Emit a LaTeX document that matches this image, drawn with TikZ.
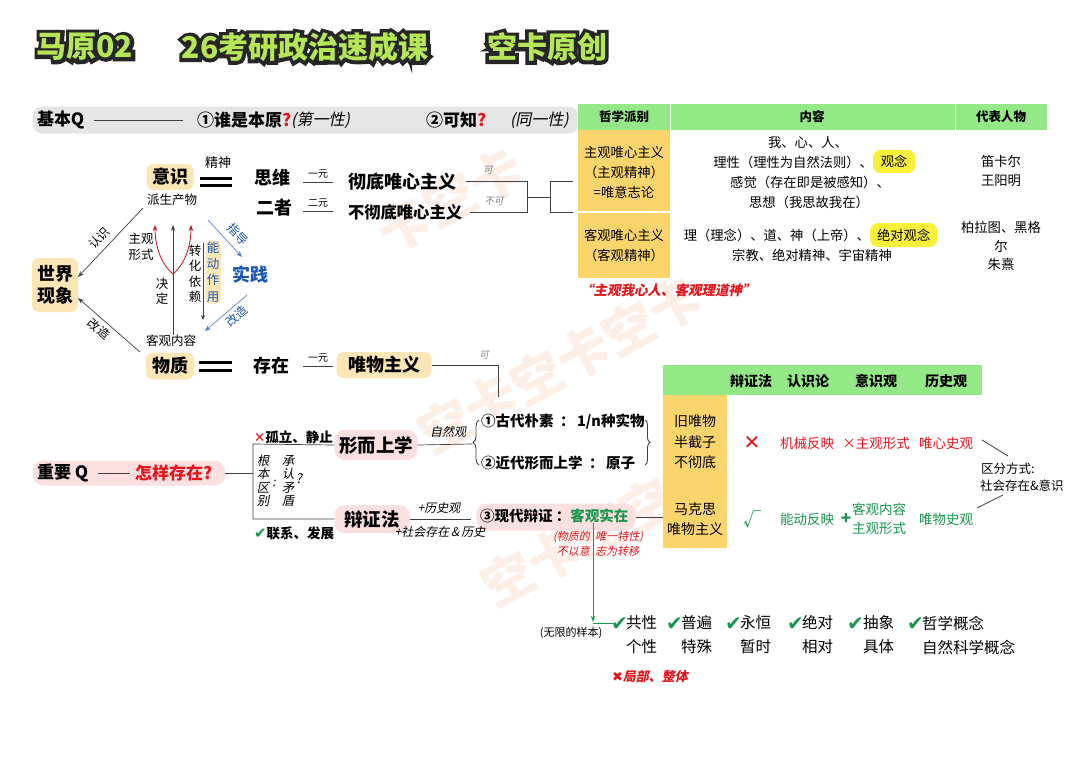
\documentclass[tikz,border=0pt]{standalone}
\usepackage{fontspec}
\setmainfont{Noto Sans CJK SC}
\newfontfamily\itf[FakeSlant=0.2]{Noto Sans CJK SC}
\newfontfamily\outf[FakeBold=24]{Noto Sans CJK SC}
\newfontfamily\djv{DejaVu Sans}
\usetikzlibrary{arrows.meta,decorations.pathreplacing}
\definecolor{tred}{HTML}{E8141B}
\definecolor{tgreen}{HTML}{17964C}
\definecolor{tblue}{HTML}{1A56B8}
\definecolor{nodeor}{HTML}{FDE6B6}
\definecolor{nodepk}{HTML}{FCE0E0}
\definecolor{hgreen}{HTML}{93E985}
\definecolor{ocol}{HTML}{FCD46C}
\definecolor{hly}{HTML}{FAF03A}
\definecolor{barg}{HTML}{E5E5E5}
\definecolor{titleg}{HTML}{B5E655}
\definecolor{lgray}{HTML}{808080}
\definecolor{wmark}{HTML}{FDEEE6}
\newcommand\fz[2]{\fontsize{#1}{#2}\selectfont}
\begin{document}
\begin{tikzpicture}[x=1pt,y=-1pt,
  t/.style={inner sep=0pt,outer sep=0pt},
  on/.style={fill=nodeor,rounded corners=7pt,inner sep=0pt},
  pk/.style={fill=nodepk,rounded corners=10pt,inner sep=0pt},
  ln/.style={draw=black!75,line width=0.7pt},
  arr/.style={ln,-{Stealth[length=6pt,width=4.5pt]}},
  redarr/.style={draw=tred!85!black,line width=0.8pt,-{Stealth[length=6pt,width=4.5pt]}},
  barr/.style={draw=tblue!80,line width=0.6pt,-{Stealth[length=6pt,width=4.5pt]}},
  eq/.style={line width=3pt,black},
  ttl/.style={t,font=\fz{30}{30}\bfseries},
  wm/.style={t,font=\fz{52}{52}\bfseries,text=wmark,rotate=28}
]
\useasboundingbox (0,0) rectangle (1080,763);
\fill[white] (0,0) rectangle (1080,763);

% watermarks
\node[wm] (wm1) at (450,200) {卡空卡};
\node[wm] (wm2) at (560,365) {空卡空卡空卡};
\node[wm] (wm3) at (600,530) {空卡空空卡};

% title
\foreach \p/\s/\n in {85/马原02/a,305/26考研政治速成课/b,547/空卡原创/c}{
  \node[ttl,text=black!85] (to\n) at (\p,47) {\outf\bfseries \s};
  \node[ttl,text=titleg] (ti\n) at (\p,47) {\s};
}

% basic Q bar
\node[fill=barg,rounded corners=9pt,minimum width=545,minimum height=27,t] (bar) at (305.5,120) {};
\node[t,anchor=west] (jbq) at (37,120) {\fz{17}{17}\bfseries 基本Q};
\coordinate (qend) at (183,120);
\draw[ln,line width=0.9pt] ([xshift=10pt]jbq.east) -- (qend);
\node[t,anchor=west] (q1) at (197,120) {\fz{17}{17}\bfseries ①谁是本原\textcolor{tred}{?}};
\node[t,anchor=west] (q1b) at (q1.east) {\fz{16}{16}\itf (第一性)};
\node[t,anchor=west] (q2) at (426,120) {\fz{17}{17}\bfseries ②可知\textcolor{tred}{?}};
\node[t,anchor=west] (q2b) at (510,120) {\fz{16}{16}\itf (同一性)};

% ---------- top table ----------
\fill[hgreen] (578,104) rectangle (1047,130);
\draw[white,line width=1pt] (670,104) -- (670,130) (955,104) -- (955,130);
\fill[ocol] (578,130) rectangle (670,278);
\draw[white,line width=1.2pt] (578,212) -- (670,212);
\node[t] (h1) at (624,117) {\fz{12.5}{12.5}\bfseries 哲学派别};
\node[t] (h2) at (812,117) {\fz{12.5}{12.5}\bfseries 内容};
\node[t] (h3) at (1001,117) {\fz{12.5}{12.5}\bfseries 代表人物};
\node[t,align=center,font=\fz{13.3}{20}] (r1a) at (624,172) {主观唯心主义\\（主观精神）\\=唯意志论};
\node[t,align=center,font=\fz{13.3}{20}] (r2a) at (624,245) {客观唯心主义\\（客观精神）};
\node[t] (c11) at (808,142) {\fz{13.3}{13.3}我、心、人、};
\node[t,anchor=east] (c12) at (873,162) {\fz{13.3}{13.3}理性（理性为自然法则）、};
\node[fill=hly,rounded corners=7pt,inner sep=0pt,minimum width=42,minimum height=23,anchor=west] (gn) at (873,161.5) {\fz{13.3}{13.3}观念};
\node[t] (c13) at (810,182) {\fz{13.3}{13.3}感觉（存在即是被感知）、};
\node[t] (c14) at (809,202) {\fz{13.3}{13.3}思想（我思故我在）};
\node[t,anchor=east] (c21) at (870,235) {\fz{13.3}{13.3}理（理念）、道、神（上帝）、};
\node[fill=hly,rounded corners=8pt,inner sep=0pt,minimum width=67,minimum height=24,anchor=west] (jdgn) at (870,235) {\fz{13.3}{13.3}绝对观念};
\node[t] (c22) at (812,255) {\fz{13.3}{13.3}宗教、绝对精神、宇宙精神};
\node[t,align=center,font=\fz{13.3}{19}] (p1) at (1001,171) {笛卡尔\\王阳明};
\node[t] (p2a) at (1001,227) {\fz{13.3}{13.3}柏拉图、黑格};
\node[t] (p2b) at (1001,246) {\fz{13.3}{13.3}尔};
\node[t] (p2c) at (1001,264) {\fz{13.3}{13.3}朱熹};
\node[t,anchor=west] (quote) at (580,290) {\fz{13.5}{13.5}\itf\bfseries\color{tred}“主观我心人、客观理道神”};

% ---------- left diagram ----------
\node[on,minimum width=47,minimum height=26] (ys) at (170,177) {\fz{18}{18}\bfseries 意识};
\node[t] (jsh) at (218,163) {\fz{13}{13}精神};
\draw[eq] (200,178.5) -- (232,178.5) (200,185) -- (232,185);
\node[t] (psw) at (172,200) {\fz{12.5}{12.5}派生产物};
\node[on,minimum width=46,minimum height=54,align=center,font=\fz{18}{22}\bfseries] (sjxx) at (55,285) {世界\\现象};
\node[t] (kgnr) at (171,341) {\fz{12.5}{12.5}客观内容};
\node[on,minimum width=48,minimum height=27] (wz) at (170,366) {\fz{18}{18}\bfseries 物质};
\draw[eq] (199,362) -- (232,362) (199,370) -- (232,370);

\coordinate (rz1) at (143,208);
\coordinate (rz2) at (78,277);
\draw[arr] (rz1) -- (rz2);
\node[t,rotate=47] (rzl) at (99,238) {\fz{12}{12}认识};
\coordinate (gz1) at (140,352);
\coordinate (gz2) at (78,298);
\draw[arr] (gz1) -- (gz2);
\node[t,rotate=-41] (gzl) at (99,329) {\fz{12}{12}改造};

\coordinate (vtop) at (173,225);
\draw[arr] (kgnr.north -| vtop) -- (vtop);
\coordinate (rc) at (173,274);
\coordinate (rl) at (155,225);
\coordinate (rr) at (191,225);
\draw[redarr] (rc) .. controls (161,264) and (155,246) .. (rl);
\draw[redarr] (rc) .. controls (185,264) and (191,246) .. (rr);
\node[t,align=center,font=\fz{12.5}{15}] (jued) at (162,291) {决\\定};
\node[t,align=center,font=\fz{12.5}{16}] (zgxs) at (141,247) {主观\\形式};
\coordinate (dn1) at (203,243);
\coordinate (dn2) at (203,320);
\draw[ln,line width=0.6pt,-{Stealth[length=5pt,width=4pt]}] (dn1) -- (dn2);
\node[t,align=center,font=\fz{12.5}{15.5}] (zhyl) at (195,274) {转\\化\\依\\赖};
\node[fill=nodeor,rounded corners=5pt,inner sep=1.5pt,align=center,font=\fz{12.5}{16.3},text=tblue] (ndzy) at (213,272) {能\\动\\作\\用};
\node[t] (sj) at (250,275) {\fz{18}{18}\bfseries\color{tblue}实践};
\coordinate (zd1) at (208,220);
\coordinate (zd2) at (242,257);
\draw[barr] (zd1) -- (zd2);
\node[t,rotate=-47] (zdl) at (238,234) {\fz{12}{12}\color{tblue}指导};
\coordinate (gb1) at (247,295);
\coordinate (gb2) at (205,331);
\draw[barr] (gb1) -- (gb2);
\node[t,rotate=40] (gbl) at (237,316) {\fz{12}{12}\color{tblue}改造};

% ---------- middle top ----------
\node[t] (sw) at (272,178) {\fz{18}{18}\bfseries 思维};
\node[t] (ez) at (274,208) {\fz{18}{18}\bfseries 二者};
\node[t] (cz) at (271,366) {\fz{18}{18}\bfseries 存在};
\node[t] (yy1) at (318,174) {\fz{10}{10}一元};
\draw[ln] (303,182) -- (333,182);
\node[t] (ey) at (318,203) {\fz{10}{10}二元};
\draw[ln] (303,211) -- (333,211);
\node[t] (yy2) at (318,358) {\fz{10}{10}一元};
\draw[ln] (303,366) -- (333,366);
\node[t,anchor=west] (cdw) at (348,182) {\fz{18}{18}\bfseries 彻底唯心主义};
\node[t,anchor=west] (bcd) at (348,212) {\fz{16.3}{16.3}\bfseries 不彻底唯心主义};
\coordinate (b1a) at (527,181);
\coordinate (b1b) at (527,212);
\draw[ln] ([xshift=10pt]cdw.east |- b1a) -- (b1a) -- (b1b) -- ([xshift=8pt]bcd.east |- b1b);
\node[t] (ke1) at (488,170) {\fz{9.5}{9.5}\itf\color{lgray}可};
\node[t] (bk1) at (494,201) {\fz{9.5}{9.5}\itf\color{lgray}不可};
\coordinate (b2a) at (550,181);
\coordinate (b2b) at (550,212);
\draw[ln] (527,197) -- (550,197);
\draw[ln] (573,181) -- (b2a) -- (b2b) -- (573,212);

% ---------- materialism ----------
\node[on,minimum width=95,minimum height=26] (wwzy) at (384,365) {\fz{18}{18}\bfseries 唯物主义};
\coordinate (wwc) at (498,365);
\coordinate (wwd) at (498,397);
\draw[ln] (wwzy.east) -- (wwc) -- (wwd);
\node[t] (ke2) at (484,355) {\fz{9.5}{9.5}\itf\color{lgray}可};

% ---------- important Q ----------
\node[pk,minimum width=192,minimum height=25] (zyq) at (129,473) {};
\node[t,anchor=west] (zyq1) at (37,473) {\fz{17}{17}\bfseries 重要 Q};
\draw[ln,line width=0.9pt] (98,473) -- (130,473);
\node[t,anchor=west] (zyq2) at (135,473) {\fz{17}{17}\bfseries\color{tred}怎样存在?};
\coordinate (bk1c) at (253,444);
\coordinate (bk2c) at (253,519);
\node[pk,minimum width=83,minimum height=30] (xe) at (376,445) {\fz{18.5}{18.5}\bfseries 形而上学};
\node[pk,minimum width=75,minimum height=28] (bz) at (372,519) {\fz{18.5}{18.5}\bfseries 辩证法};
\draw[ln] (zyq.east) -- (bk1c |- zyq.east);
\draw[ln] (xe.west) -- (bk1c) -- (bk2c) -- (bz.west);
\node[t,anchor=west] (gl) at (254,437) {\fz{13.5}{13.5}\bfseries\textcolor{tred}{\djv ✕}孤立、静止};
\node[t,anchor=west] (lx) at (254,533) {\fz{13.5}{13.5}\bfseries\textcolor{tgreen}{\fz{15}{15}\djv ✔}联系、发展};
\node[t,align=center,font=\fz{12.5}{13.5}\itf] (gbqb) at (263,481) {根\\本\\区\\别};
\node[t] (colon) at (274,483) {\fz{12}{12}\itf :};
\node[t,align=center,font=\fz{12.5}{13.5}\itf] (crmd) at (288,481) {承\\认\\矛\\盾};
\node[t] (qm) at (299,479) {\fz{13}{13}\itf ?};

\node[t] (zrg) at (448,432) {\fz{12}{12}\itf 自然观};
\coordinate (brL) at (472,444);
\draw[ln] (xe.east) -- (brL);
\draw[ln,line width=0.9pt,decorate,decoration={brace,amplitude=6pt}] (479,465) -- (479,420);
\node[t,anchor=west] (gd) at (481,422) {\fz{14.5}{14.5}\bfseries ①古代朴素 ~：\,1/n种实物};
\node[t,anchor=west] (jd) at (481,463) {\fz{14.5}{14.5}\bfseries ②近代形而上学 ~：\,原子};
\draw[ln,line width=0.9pt,decorate,decoration={brace,amplitude=5pt}] (645,420) -- (645,465);

\node[pk,minimum width=159,minimum height=27] (xd) at (556,517) {};
\node[t] (lsg) at (439,508) {\fz{12}{12}\itf +历史观};
\coordinate (lsgE) at (471,519);
\draw[ln] (bz.east) -- (lsgE);
\node[t] (shcz) at (440,532) {\fz{12}{12}\itf +社会存在\,\&\,历史};
\node[t,anchor=west] (xdt) at (480,516) {\fz{14.5}{14.5}\bfseries ③现代辩证~：\textcolor{tgreen}{客观实在}};
\coordinate (mkxL) at (663,517);
\draw[ln] (xd.east) -- (mkxL);
\node[t,align=center,font=\fz{11}{15}\itf,text=tred] (wzwy) at (598,544) {(物质的\enspace 唯一特性)\\不以意\enspace 志为转移};

% ---------- lower table ----------
\fill[hgreen] (663,365) rectangle (982,395);
\fill[ocol] (663,395) rectangle (727,548);
\node[t] (lh1) at (751,381) {\fz{14}{14}\bfseries 辩证法};
\node[t] (lh2) at (808,381) {\fz{14}{14}\bfseries 认识论};
\node[t] (lh3) at (876,381) {\fz{14}{14}\bfseries 意识观};
\node[t] (lh4) at (946,381) {\fz{14}{14}\bfseries 历史观};
\node[t,align=center,font=\fz{14}{20.5}] (jwz) at (695,442) {旧唯物\\半截子\\不彻底};
\node[t,align=center,font=\fz{14}{20}] (mks) at (695,519) {马克思\\唯物主义};
\node[t] (x1) at (752,443) {\fz{20}{20}\djv\color{tred}✕};
\node[t] (jxfy) at (807,443) {\fz{13.5}{13.5}\color{tred}机械反映};
\node[t] (xzg) at (876,443) {\fz{13.5}{13.5}\color{tred}×主观形式};
\node[t] (wxsg) at (946,443) {\fz{13.5}{13.5}\color{tred}唯心史观};
\node[t] (ck1) at (752,519) {\fz{18}{18}\color{tgreen}√};
\node[t] (ndfy) at (807,519) {\fz{13.5}{13.5}\color{tgreen}能动反映};
\node[t] (plus) at (846,519) {\fz{17}{17}\bfseries\color{tgreen}+};
\node[t,align=center,font=\fz{13.5}{19},text=tgreen] (kgzg) at (879,518.5) {客观内容\\主观形式};
\node[t] (wwsg) at (946,519) {\fz{13.5}{13.5}\color{tgreen}唯物史观};
\node[t,anchor=west] (qffs) at (981,469) {\fz{12.5}{12.5}区分方式:};
\node[t,anchor=west] (shcy) at (980,486) {\fz{12.5}{12.5}社会存在\&意识};
\coordinate (qa1) at (982,440);
\coordinate (qa2) at (1008,456);
\coordinate (qb1) at (1003,495);
\coordinate (qb2) at (977,508);
\draw[ln,line width=0.8pt] (qa1) -- (qa2);
\draw[ln,line width=0.8pt] (qb1) -- (qb2);

% ---------- bottom ----------
\coordinate (gtop) at (593,523);
\coordinate (gbt) at (593,622);
\coordinate (gright) at (613,623);
\draw[draw=tgreen,line width=0.8pt,-{Stealth[length=6pt,width=4pt]}] (gtop) -- (gbt);
\draw[draw=tgreen,line width=0.8pt] (593,623) -- (gright);
\node[t] (wxyb) at (571,633) {\fz{11}{11}(无限的样本)};
\foreach \cx/\tx/\a/\b/\n in {611/626/共性/个性/1, 666/681/普遍/特殊/2, 725/740/永恒/暂时/3, 787/802/绝对/相对/4, 847/863/抽象/具体/5, 907/922/哲学概念/自然科学概念/6}{
  \node[t,anchor=west] (ck\n) at (\cx,624) {\fz{20}{20}\djv\bfseries\color{tgreen}✔};
  \node[t,anchor=west] (ua\n) at (\tx,623) {\fz{15.5}{15.5}\a};
  \node[t,anchor=west] (ub\n) at (\tx,647) {\fz{15.5}{15.5}\b};
}
\node[t,anchor=west] (jbzt) at (612,676) {\fz{13}{13}\itf\bfseries\color{tred}{\djv ✖}局部、整体};
\end{tikzpicture}
\end{document}
